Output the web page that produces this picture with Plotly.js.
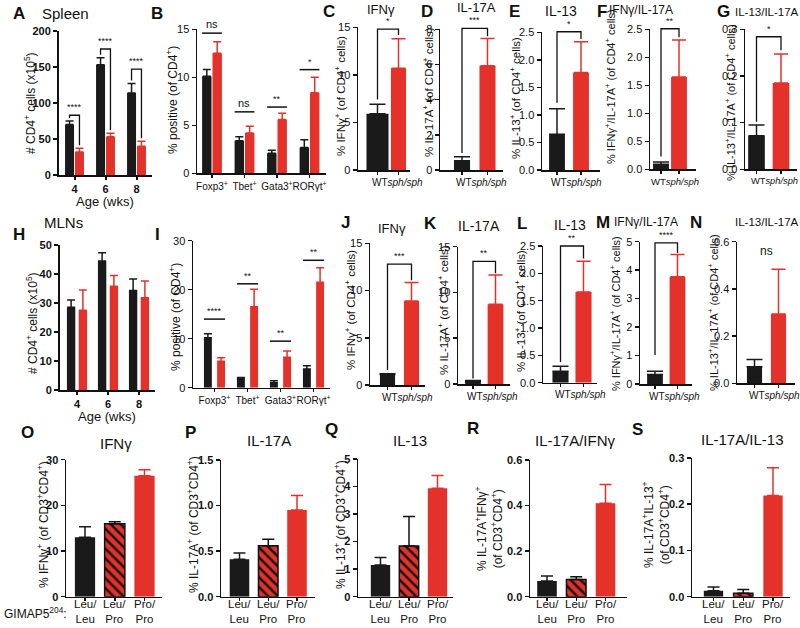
<!DOCTYPE html>
<html><head><meta charset="utf-8">
<script src="https://cdn.plot.ly/plotly-3.0.1.min.js"></script>
<style>body{margin:0;background:#fff}#chart{width:800px;height:628px}</style>
</head><body><div id="chart"></div>
<script>
// ================= DATA =================
// A / H : CD4+ counts by age
const ageWeeks = ['4', '6', '8'];
const spleenWT = [70, 153, 114];
const spleenWTsem = [5, 10, 13];
const spleenSph = [32, 53, 40];
const spleenSphSem = [5, 5, 7];
const spleenAgeSig = ['****', '****', '****'];
const spleenAgeSigY = [83, 175, 147];

const mlnWT = [28.5, 44.5, 34.3];
const mlnWTsem = [2.5, 2.8, 4.0];
const mlnSph = [27.5, 35.8, 31.8];
const mlnSphSem = [7.0, 3.7, 5.8];

// B / I : transcription factors
const tfCats = ['Foxp3<sup>+</sup>', 'Tbet<sup>+</sup>', 'Gata3<sup>+</sup>', 'RORγt<sup>+</sup>'];
const spleenTfWT = [10.1, 3.4, 2.1, 2.7];
const spleenTfWTsem = [0.7, 0.4, 0.3, 0.8];
const spleenTfSph = [12.5, 4.2, 5.6, 8.4];
const spleenTfSphSem = [1.2, 0.7, 0.65, 1.6];
const spleenTfSig = ['ns', 'ns', '**', '*'];
const spleenTfSigY = [14.6, 6.4, 6.9, 10.8];

const mlnTfWT = [10.2, 1.8, 1.0, 3.8];
const mlnTfWTsem = [0.8, 0.3, 0.4, 0.7];
const mlnTfSph = [5.4, 16.5, 6.2, 21.5];
const mlnTfSphSem = [0.7, 3.6, 1.3, 3.0];
const mlnTfSig = ['****', '**', '**', '**'];
const mlnTfSigY = [14, 21.2, 9.5, 26];

// C-G / J-N : cytokines, [WT, sph/sph]
const genotypes = ['WT', '<i>sph/sph</i>'];
const spIFNg = [5.9, 10.7],        spIFNgSem = [1.0, 3.1];
const spIL17A = [0.53, 5.93],      spIL17ASem = [0.23, 1.55];
const spIL13 = [0.65, 1.77],       spIL13Sem = [0.46, 0.56];
const spIFNgIL17 = [0.09, 1.65],   spIFNgIL17Sem = [0.04, 0.66];
const spIL13IL17 = [0.072, 0.185], spIL13IL17Sem = [0.023, 0.062];
const mlIFNg = [1.1, 8.9],         mlIFNgSem = [0.1, 1.95];
const mlIL17A = [0.25, 8.7],       mlIL17ASem = [0.12, 3.2];
const mlIL13 = [0.21, 1.66],       mlIL13Sem = [0.09, 0.56];
const mlIFNgIL17 = [0.33, 3.77],   mlIFNgIL17Sem = [0.12, 0.78];
const mlIL13IL17 = [0.07, 0.294],  mlIL13IL17Sem = [0.031, 0.189];
const cytoSig = ['*', '***', '*', '**', '*', '***', '**', '**', '****', 'ns'];
const cytoSigY = [14.8, 8.05, 2.51, 2.51, 0.284, 12.8, 13.4, 2.5, 4.96, 0.56];
const cytoLegLow = [7.4, 0.96, 1.22, 0.23, 0.102, 1.6, 0.6, 0.38, 1.02, null];   // bracket left leg ends
const cytoLegHigh = [14.2, 7.6, 2.38, 2.36, 0.255, 11.1, 12.1, 2.27, 4.6, null]; // bracket right leg ends

// O-S : GIMAP5 204 genotypes
const gimapCats = ['Leu/<br>Leu', 'Leu/<br>Pro', 'Pro/<br>Pro'];
const gIFNg = [13, 16, 26.5],         gIFNgSem = [2.3, 0.4, 1.3];
const gIL17A = [0.41, 0.56, 0.95],    gIL17ASem = [0.07, 0.07, 0.16];
const gIL13 = [1.15, 1.84, 3.94],     gIL13Sem = [0.27, 1.07, 0.46];
const gIL17IFNg = [0.069, 0.076, 0.41], gIL17IFNgSem = [0.022, 0.012, 0.083];
const gIL17IL13 = [0.013, 0.0072, 0.219], gIL17IL13Sem = [0.008, 0.0086, 0.06];

// ================= STYLE / LAYOUT =================
const W = 800, H = 628;
const BLACK = '#1a1a1a', RED = '#e4322b', INK = '#111';
const FONT = '"Liberation Sans", Arial, sans-serif';

const panels = [
  {kind:'group', cats:ageWeeks, wt:spleenWT, wtS:spleenWTsem, sp:spleenSph, spS:spleenSphSem, sig:spleenAgeSig, sigY:spleenAgeSigY, sigStyle:'bracket',
   L:59,R:152,T:31,B:175,ymax:200,dtick:50,c0:74.5,sx:31,d:0.16,w:0.29,bold:true,lw:2,cap:4},
  {kind:'group', cats:tfCats, wt:spleenTfWT, wtS:spleenTfWTsem, sp:spleenTfSph, spS:spleenTfSphSem, sig:spleenTfSig, sigY:spleenTfSigY, sigStyle:'line',
   L:197,R:326,T:29.3,B:173.3,ymax:15,dtick:5,c0:212,sx:32.5,d:0.16,w:0.29,lw:1.5,cap:4,xfs:10},
  {kind:'pair', v:spIFNg, s:spIFNgSem, si:0, L:358,R:410,T:27.3,B:170,ymax:15,dtick:5,c0:377.5,sx:21,w:1.05,w2:0.72},
  {kind:'pair', v:spIL17A, s:spIL17ASem, si:1, L:440,R:503,T:29.3,B:170,ymax:8,dtick:2,c0:462,sx:25.5,w:0.63},
  {kind:'pair', v:spIL13, s:spIL13Sem, si:2, L:542,R:600,T:32.3,B:170,ymax:2.5,dtick:0.5,c0:557,sx:24,w:0.66,fmt:'.1f'},
  {kind:'pair', v:spIFNgIL17, s:spIFNgIL17Sem, si:3, L:650,R:696,T:29.3,B:169.3,ymax:2.5,dtick:0.5,c0:661,sx:18,w:0.88,fmt:'.1f',lblShift:-12,lfs:9.5},
  {kind:'pair', v:spIL13IL17, s:spIL13IL17Sem, si:4, L:745,R:797,T:29.3,B:169.3,ymax:0.3,dtick:0.1,c0:756.5,sx:24.5,w:0.68,fmt:'.1f',lfs:9.3},

  {kind:'group', cats:ageWeeks, wt:mlnWT, wtS:mlnWTsem, sp:mlnSph, spS:mlnSphSem,
   L:60,R:155,T:245,B:390,ymax:50,dtick:10,c0:77,sx:31,d:0.19,w:0.27,bold:true,lw:2,cap:4},
  {kind:'group', cats:tfCats, wt:mlnTfWT, wtS:mlnTfWTsem, sp:mlnTfSph, spS:mlnTfSphSem, sig:mlnTfSig, sigY:mlnTfSigY, sigStyle:'line',
   L:193,R:330,T:240.7,B:387.7,ymax:30,dtick:10,c0:214.5,sx:33,d:0.2,w:0.24,lw:1.5,cap:4,xfs:10},
  {kind:'pair', v:mlIFNg, s:mlIFNgSem, si:5, L:370,R:425,T:243.3,B:385,ymax:15,dtick:5,c0:387.5,sx:24,w:0.63},
  {kind:'pair', v:mlIL17A, s:mlIL17ASem, si:6, L:458,R:510,T:246.7,B:384,ymax:15,dtick:5,c0:473,sx:22.5,w:0.7},
  {kind:'pair', v:mlIL13, s:mlIL13Sem, si:7, L:543,R:597,T:246,B:382.7,ymax:2.5,dtick:0.5,c0:560.5,sx:23,w:0.7,fmt:'.1f'},
  {kind:'pair', v:mlIFNgIL17, s:mlIFNgIL17Sem, si:8, L:640,R:692,T:241.7,B:384,ymax:5,dtick:1,c0:655,sx:22.5,w:0.7},
  {kind:'pair', v:mlIL13IL17, s:mlIL13IL17Sem, si:9, textOnly:true, L:737,R:795,T:241.7,B:383.3,ymax:0.6,dtick:0.2,c0:754.5,sx:24,w:0.63,fmt:'.1f'},

  {kind:'triple', v:gIFNg, s:gIFNgSem, L:66,R:162,T:459.7,B:596.7,ymax:30,dtick:10,c0:85,sx:29.75,w:0.68},
  {kind:'triple', v:gIL17A, s:gIL17ASem, L:221,R:315,T:460,B:596.7,ymax:1.5,dtick:0.5,c0:239.5,sx:28.75,w:0.68,fmt:'.1f'},
  {kind:'triple', v:gIL13, s:gIL13Sem, L:358,R:453,T:459,B:596.7,ymax:5,dtick:1,c0:380.5,sx:28.5,w:0.68},
  {kind:'triple', v:gIL17IFNg, s:gIL17IFNgSem, L:530,R:627,T:460,B:596.7,ymax:0.6,dtick:0.2,c0:547,sx:29.25,w:0.67,fmt:'.1f'},
  {kind:'triple', v:gIL17IL13, s:gIL17IL13Sem, L:692,R:790,T:458,B:596.7,ymax:0.3,dtick:0.1,c0:713.5,sx:29.75,w:0.65,fmt:'.1f'}
];

const letters = [['A',19,13],['B',157,13],['C',329,11],['D',427,12],['E',514,12],['F',602,12],['G',723,12],
  ['H',19,234],['I',157,234],['J',345,222],['K',430,224],['L',522,224],['M',603,222],['N',696,222],
  ['O',27,432],['P',190,432],['Q',331,429],['R',473,428],['S',637,429]];
const titles = [['Spleen',65,14,15],['IFNγ',381,10,13],['IL-17A',476,8,13],['IL-13',561,11,14],['IFNγ/IL-17A',641,10,12],['IL-13/IL-17A',767,12,11.5],
  ['MLNs',63,222,15],['IFNγ',392,229,13],['IL-17A',479,226,14],['IL-13',570,225,14],['IFNγ/IL-17A',646,222,12],['IL-13/IL-17A',767,222,11.5],
  ['IFNγ',116,443,15],['IL-17A',269,440,15],['IL-13',410,440,15],['IL-17A/IFNγ',575,440,15],['IL-17A/IL-13',742,439,15]];
const tCount = '# CD4<sup>+</sup> cells (x10<sup>5</sup>)';
const tPos = '% positive (of CD4<sup>+</sup>)';
const tIFN = '% IFNγ<sup>+</sup> (of CD4<sup>+</sup> cells)';
const tI17 = '% IL-17A<sup>+</sup> (of CD4<sup>+</sup> cells)';
const tI13 = '% IL-13<sup>+</sup> (of CD4<sup>+</sup> cells)';
const tIF17 = '% IFNγ<sup>+</sup>/IL-17A<sup>+</sup> (of CD4<sup>+</sup> cells)';
const tI1317 = '% IL-13<sup>+</sup>/IL-17A<sup>+</sup> (of CD4<sup>+</sup> cells)';
const yTitles = [[tCount,30,103,12],[tPos,172,100,12],[tIFN,340,96,11.5],[tI17,428,92,11.5],[tI13,515,98,11.5],[tIF17,610,87,11],[tI1317,730,103,11],
  [tCount,32,323,12],[tPos,175,317,12],[tIFN,350,310,11.5],[tI17,443,310,11.5],[tI13,520,311,11.5],[tIF17,615,314,11],[tI1317,713,313,11],
  ['% IFNγ<sup>+</sup> (of CD3<sup>+</sup>CD4<sup>+</sup>)',43,525,12],['% IL-17A<sup>+</sup> (of CD3<sup>+</sup>CD4<sup>+</sup>)',193,525,12],
  ['% IL-13<sup>+</sup> (of CD3<sup>+</sup>CD4<sup>+</sup>)',340,525,12],
  ['% IL-17A<sup>+</sup>IFNγ<sup>+</sup><br>(of CD3<sup>+</sup>CD4<sup>+</sup>)',489,528,12],
  ['% IL-17A<sup>+</sup>IL-13<sup>+</sup><br>(of CD3<sup>+</sup>CD4<sup>+</sup>)',656,525,12]];

// ================= BUILD =================
const traces = [];
const layout = {width:W, height:H, margin:{l:0,r:0,t:0,b:0}, paper_bgcolor:'#fff', plot_bgcolor:'rgba(0,0,0,0)',
  showlegend:false, barmode:'overlay', font:{family:FONT, color:INK, size:11}, shapes:[], annotations:[]};
const PX = x => x / W, PY = y => 1 - y / H;

function errY(sem, color, cap, th){
  return {type:'data', symmetric:false, array:sem, arrayminus:sem.map(()=>0), color:color, thickness:th||1.5, width:cap};
}
function bar(k, x, y, sem, off, w, color, cap, extra){
  const t = {type:'bar', x:x, y:y, offset:off, width:w, xaxis:'x'+k, yaxis:'y'+k, hoverinfo:'skip',
    marker:{color:color, line:{width:0}}, error_y:errY(sem, color, cap)};
  return Object.assign(t, extra||{});
}
function txt(text, x, y, size, o){
  layout.annotations.push(Object.assign({text:text, x:PX(x), y:PY(y), xref:'paper', yref:'paper', showarrow:false,
    font:{family:FONT, size:size, color:INK}, xanchor:'center', yanchor:'middle'}, o||{}));
}

panels.forEach((p, i) => {
  const k = i === 0 ? '' : String(i + 1);
  const xpx = xv => p.c0 + xv * p.sx;
  const ypx = yv => p.B - yv / p.ymax * (p.B - p.T);
  const lw = p.lw || 1.5;
  let tickvals, ticktext, xfs = p.xfs || 10, showXLabels = true;
  if (p.kind === 'group') {
    const idx = p.cats.map((_, j) => j);
    traces.push(bar(k, idx, p.wt, p.wtS, -p.d - p.w/2, p.w, BLACK, p.cap));
    traces.push(bar(k, idx, p.sp, p.spS, p.d - p.w/2, p.w, RED, p.cap));
    tickvals = idx; ticktext = p.cats; if (p.bold) xfs = 11;
    if (p.sig) p.sig.forEach((s, j) => {
      const y0 = ypx(p.sigY[j]);
      if (p.sigStyle === 'bracket') {
        const xl = xpx(j - p.d), xr = xpx(j + p.d);
        const yl = ypx(p.wt[j] + p.wtS[j]) - 3, yr = ypx(p.sp[j] + p.spS[j]) - 3;
        layout.shapes.push({type:'path', xref:'paper', yref:'paper', line:{color:INK, width:1.3},
          path:`M${PX(xl)},${PY(yl)} L${PX(xl)},${PY(y0)} L${PX(xr)},${PY(y0)} L${PX(xr)},${PY(yr)}`});
        txt(s, (xl+xr)/2, y0 - 1, 9, {yanchor:'bottom'});
      } else {
        const xl = xpx(j - p.d - p.w/2), xr = xpx(j + p.d + p.w/2);
        layout.shapes.push({type:'line', xref:'paper', yref:'paper', x0:PX(xl), x1:PX(xr), y0:PY(y0), y1:PY(y0), line:{color:INK, width:1.5}});
        txt(s, (xl+xr)/2, y0 - 1, s === 'ns' ? 11 : 9, {yanchor:'bottom'});
      }
    });
  } else if (p.kind === 'pair') {
    const w2 = p.w2 || p.w;
    traces.push(bar(k, [0], [p.v[0]], [p.s[0]], -p.w/2, p.w, BLACK, 8));
    traces.push(bar(k, [1], [p.v[1]], [p.s[1]], -w2/2, w2, RED, 7));
    tickvals = [0, 1]; ticktext = genotypes; showXLabels = false;
    // genotype labels run together as one string, starting under the WT bar
    layout.annotations.push({text:genotypes.join(''), x:0, xref:'x' + (k || ''), xshift:(p.lblShift || -8),
      y:PY(p.B + 12), yref:'paper', xanchor:'left', yanchor:'middle', showarrow:false,
      font:{family:FONT, size:p.lfs || 10, color:INK}});
    const s = cytoSig[p.si], y0 = ypx(cytoSigY[p.si]);
    if (p.textOnly) {
      txt(s, xpx(0.5), y0, 12);
    } else {
      const xl = xpx(0), xr = xpx(1);
      const yl = ypx(cytoLegLow[p.si]), yr = ypx(cytoLegHigh[p.si]);
      layout.shapes.push({type:'path', xref:'paper', yref:'paper', line:{color:INK, width:1.3},
        path:`M${PX(xl)},${PY(yl)} L${PX(xl)},${PY(y0)} L${PX(xr)},${PY(y0)} L${PX(xr)},${PY(yr)}`});
      txt(s, (xl+xr)/2, y0 - 1, 9, {yanchor:'bottom'});
    }
  } else {
    traces.push(bar(k, [0], [p.v[0]], [p.s[0]], -p.w/2, p.w, BLACK, 6));
    traces.push(bar(k, [1], [p.v[1]], [p.s[1]], -p.w/2, p.w, RED, 6, {
      marker:{color:RED, pattern:{shape:'\\', fgcolor:INK, bgcolor:RED, fillmode:'replace', size:7, solidity:0.35}, line:{color:INK, width:1.5}},
      error_y: errY([p.s[1]], INK, 6)}));
    traces.push(bar(k, [2], [p.v[2]], [p.s[2]], -p.w/2, p.w, RED, 6));
    tickvals = [0, 1, 2]; ticktext = gimapCats; showXLabels = false;
    gimapCats.forEach((c, j) => layout.annotations.push({text:c, x:j, xref:'x' + (k || ''), y:PY(611), yref:'paper',
      showarrow:false, xanchor:'center', yanchor:'middle', font:{family:FONT, size:11.5, color:INK}}));
  }
  const bold = p.bold || p.kind === 'triple';
  layout['xaxis' + k] = {domain:[PX(p.L), PX(p.R)], range:[(p.L - p.c0)/p.sx, (p.R - p.c0)/p.sx], anchor:'y' + k,
    tickvals:tickvals, ticktext:ticktext, tickangle:0, showticklabels:showXLabels, showline:true, linecolor:INK, linewidth:lw,
    ticks:'outside', ticklen:3, tickwidth:lw, tickcolor:INK, showgrid:false, zeroline:false, fixedrange:true,
    tickfont:{family:FONT, size:xfs, color:INK, weight:p.bold ? 'bold' : 'normal'}};
  layout['yaxis' + k] = {domain:[PY(p.B), PY(p.T)], range:[0, p.ymax], anchor:'x' + k, tick0:0, dtick:p.dtick,
    tickformat:p.fmt || '', showline:true, linecolor:INK, linewidth:lw, ticks:'outside', ticklen:4, tickwidth:lw, tickcolor:INK,
    showgrid:false, zeroline:false, fixedrange:true,
    tickfont:{family:FONT, size:11, color:INK, weight:bold ? 'bold' : 'normal'}};
});

letters.forEach(l => txt(l[0], l[1], l[2], 17, {font:{family:FONT, size:17, color:INK, weight:'bold'}}));
titles.forEach(t => txt(t[0], t[1], t[2], t[3]));
yTitles.forEach(t => txt(t[0], t[1], t[2], t[3], {textangle:-90}));
txt('Age (wks)', 105, 201, 13);
txt('Age (wks)', 107, 416, 13);
txt('GIMAP5<sup>204</sup>:', 35, 613, 12);

Plotly.newPlot('chart', traces, layout, {staticPlot:true, displayModeBar:false});
</script>
</body></html>
